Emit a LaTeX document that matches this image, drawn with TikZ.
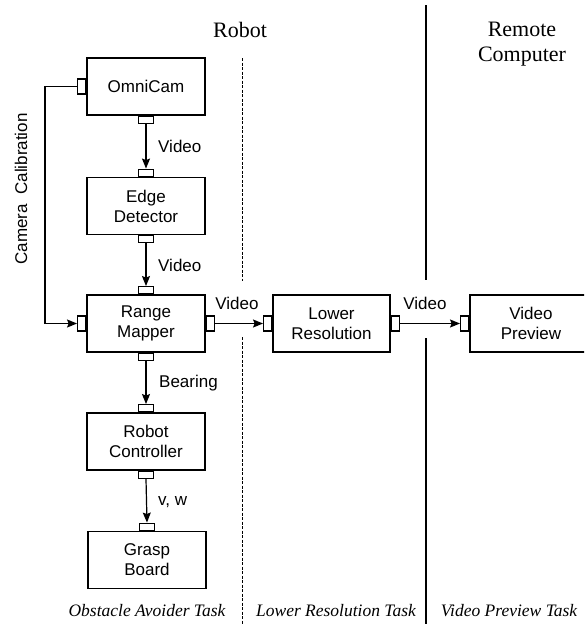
\documentclass[tikz,border=0pt]{standalone}
\usepackage{fontspec}
\setmainfont{Liberation Serif}
\setsansfont{Liberation Sans}
\usetikzlibrary{arrows.meta}
\begin{document}
\begin{tikzpicture}[x=1pt,y=-1pt,
  box/.style={draw, line width=1.5pt, minimum width=118pt, minimum height=57pt, align=center, font=\sffamily\fontsize{17}{20}\selectfont, inner sep=0pt},
  hport/.style={draw, line width=1.2pt, minimum width=15pt, minimum height=7pt, inner sep=0pt},
  vport/.style={draw, line width=1.2pt, minimum width=8pt, minimum height=15pt, inner sep=0pt},
  arr/.style={line width=1.2pt, -{Stealth[length=10pt,width=8pt,inset=1.5pt]}},
  lab/.style={font=\sffamily\fontsize{17}{20}\selectfont, inner sep=0pt},
  title/.style={font=\fontsize{22}{25}\selectfont, align=center, inner sep=0pt},
  task/.style={font=\itshape\fontsize{17.5}{21}\selectfont, inner sep=0pt},
  sep/.style={line width=1.8pt},
  dsep/.style={line width=0.9pt, dash pattern=on 3pt off 1.5pt},
]
\clip (0,0) rectangle (584,624);
% titles
\node[title] (trobot) at (240,30) {Robot};
\node[title] (tremote) at (522,44) {Remote\\Computer};
% separators
\draw[dsep] (242,58) -- (242,281);
\draw[dsep] (242,337) -- (242,624);
\draw[sep] (426,5) -- (426,280);
\draw[sep] (426,338) -- (426,624);
% boxes
\node[box] (omni) at (146,86.5) {OmniCam};
\node[box] (edge) at (146,206) {Edge\\Detector};
\node[box] (range) at (146,323.5) {Range\\Mapper};
\node[box] (ctrl) at (146,441.5) {Robot\\Controller};
\node[box] (grasp) at (147,560) {Grasp\\Board};
\node[box, minimum width=117pt] (lowres) at (331.5,323.5) {Lower\\Resolution};
\node[box, minimum width=122pt, text width=118pt] (vprev) at (531,323.5) {Video\\Preview};
% ports
\node[vport, anchor=east] (omniL) at (omni.west) {};
\node[hport, anchor=north] (omniB) at (omni.south) {};
\node[hport, anchor=south] (edgeT) at (edge.north) {};
\node[hport, anchor=north] (edgeB) at (edge.south) {};
\node[hport, anchor=south] (rangeT) at (range.north) {};
\node[hport, anchor=north] (rangeB) at (range.south) {};
\node[vport, anchor=east] (rangeL) at (range.west) {};
\node[vport, anchor=west] (rangeR) at (range.east) {};
\node[hport, anchor=south] (ctrlT) at (ctrl.north) {};
\node[hport, anchor=north] (ctrlB) at (ctrl.south) {};
\node[hport, anchor=south] (graspT) at (grasp.north) {};
\node[vport, anchor=east] (lowresL) at (lowres.west) {};
\node[vport, anchor=west] (lowresR) at (lowres.east) {};
\node[vport, anchor=east] (vprevL) at (vprev.west) {};
% connectors
\draw[arr] (omniB.south) -- (edgeT.north);
\draw[arr] (edgeB.south) -- (rangeT.north);
\draw[arr] (rangeB.south) -- (ctrlT.north);
\draw[arr] (ctrlB.south) -- (graspT.north);
\draw[arr] (rangeR.east) -- (lowresL.west);
\draw[arr] (lowresR.east) -- (vprevL.west);
\draw[arr] (omniL.west) -- ++(-32,0) |- (rangeL.west);
% connector labels
\node[lab, anchor=west] (l1) at (158,146) {Video};
\node[lab, anchor=west] (l2) at (158,265) {Video};
\node[lab] (l3) at (237,303) {Video};
\node[lab] (l4) at (425,303) {Video};
\node[lab, anchor=west] (l5) at (159,383) {Bearing};
\node[lab, anchor=west] (l6) at (158,502) {v, w};
\node[lab, rotate=90] (cal) at (21,189) {Camera\ \ Calibration};
% task labels
\node[task] (k1) at (147,611) {Obstacle Avoider Task};
\node[task] (k2) at (336,611) {Lower Resolution Task};
\node[task] (k3) at (509,611) {Video Preview Task};
\end{tikzpicture}
\end{document}
